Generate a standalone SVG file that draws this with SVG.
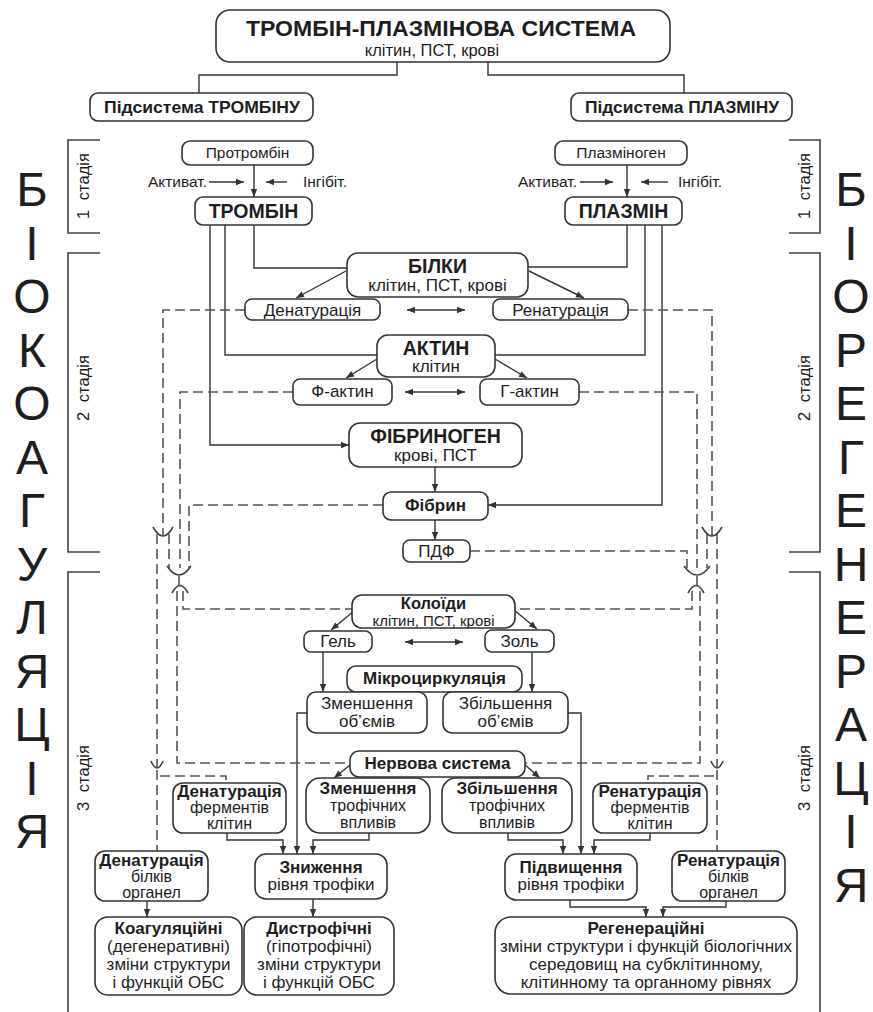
<svg xmlns="http://www.w3.org/2000/svg" width="873" height="1012" viewBox="0 0 873 1012">
<defs>
<style>
.bx{fill:#fff;stroke:#333;stroke-width:1.6}
.ln{fill:none;stroke:#333;stroke-width:1.4}
.ar{fill:none;stroke:#333;stroke-width:1.4;marker-end:url(#ah)}
.da{fill:none;stroke:#333;stroke-width:1.4;marker-start:url(#ah);marker-end:url(#ah)}
.ds{fill:none;stroke:#555;stroke-width:1.6;stroke-dasharray:10 5}
.cp{fill:none;stroke:#444;stroke-width:1.6}
.br{fill:none;stroke:#444;stroke-width:1.6}
text{font-family:"Liberation Sans",Arial,Helvetica,sans-serif;fill:#1e1e1e;text-anchor:middle}
.n{font-size:17px}
.b{font-size:17px;font-weight:bold}
.m{font-size:16px}
.mb{font-size:16px;font-weight:bold}
.h{font-size:19.5px;font-weight:bold}
.s{font-size:15.5px}
.L{font-size:48px}
.st{font-size:16.5px;word-spacing:5px}
</style>
<marker id="ah" viewBox="0 0 10 10" refX="10" refY="5" markerUnits="userSpaceOnUse" markerWidth="9" markerHeight="8" orient="auto-start-reverse"><path d="M0,1 L10,5 L0,9 z" fill="#333"/></marker>
</defs>
<rect width="873" height="1012" fill="#fff"/>

<g id="letters-left">
<text class="L" x="32" y="206">Б</text>
<text class="L" x="32" y="259.5">І</text>
<text class="L" x="32" y="313">О</text>
<text class="L" x="32" y="366.5">К</text>
<text class="L" x="32" y="420">О</text>
<text class="L" x="32" y="473.5">А</text>
<text class="L" x="32" y="527">Г</text>
<text class="L" x="32" y="580.5">У</text>
<text class="L" x="32" y="634">Л</text>
<text class="L" x="32" y="687.5">Я</text>
<text class="L" x="32" y="741">Ц</text>
<text class="L" x="32" y="794.5">І</text>
<text class="L" x="32" y="848">Я</text>
</g>
<g id="letters-right">
<text class="L" x="851" y="206">Б</text>
<text class="L" x="851" y="259.5">І</text>
<text class="L" x="851" y="313">О</text>
<text class="L" x="851" y="366.5">Р</text>
<text class="L" x="851" y="420">Е</text>
<text class="L" x="851" y="473.5">Г</text>
<text class="L" x="851" y="527">Е</text>
<text class="L" x="851" y="580.5">Н</text>
<text class="L" x="851" y="634">Е</text>
<text class="L" x="851" y="687.5">Р</text>
<text class="L" x="851" y="741">А</text>
<text class="L" x="851" y="794.5">Ц</text>
<text class="L" x="851" y="848">І</text>
<text class="L" x="851" y="901.5">Я</text>
</g>

<g id="stages">
<path class="br" d="M100,140 H68 V233 H100 M100,253 H68 V552 H100 M100,572 H68 V1012"/>
<path class="br" d="M789,140 H820 V233 H789 M789,253 H820 V552 H789 M789,572 H820 V1012"/>
<text class="st" transform="translate(89,186) rotate(-90)">1 стадія</text>
<text class="st" transform="translate(89,388) rotate(-90)">2 стадія</text>
<text class="st" transform="translate(89,778) rotate(-90)">3 стадія</text>
<text class="st" transform="translate(810,186) rotate(-90)">1 стадія</text>
<text class="st" transform="translate(810,388) rotate(-90)">2 стадія</text>
<text class="st" transform="translate(810,778) rotate(-90)">3 стадія</text>
</g>

<g id="connectors">
<path class="ln" d="M397,62 V75 H199 V93"/>
<path class="ln" d="M488,62 V75 H684 V93"/>
<path class="ar" d="M254,165 V197"/>
<path class="ar" d="M627,165 V197"/>
<path class="ar" d="M209,182 H244"/>
<path class="ar" d="M287,182 H266"/>
<path class="ar" d="M580,182 H613"/>
<path class="ar" d="M668,182 H641"/>
<path class="ln" d="M254,225 V268 H347"/>
<path class="ln" d="M225,225 V355 H377"/>
<path class="ar" d="M210,225 V445 H349"/>
<path class="ln" d="M627,225 V267 H528"/>
<path class="ln" d="M645,225 V355 H495"/>
<path class="ar" d="M662,225 V505 H488"/>
<path class="ar" d="M346,271 L296,298"/>
<path class="ar" d="M529,271 L584,298"/>
<path class="da" d="M407,310 H465"/>
<path class="ar" d="M377,359 L346,378"/>
<path class="ar" d="M495,359 L527,378"/>
<path class="da" d="M405,392 H465"/>
<path class="ar" d="M435,467 V492"/>
<path class="ar" d="M435,520 V540"/>
<path class="ar" d="M354,611 L331,630"/>
<path class="ar" d="M514,610 L537,629"/>
<path class="da" d="M405,642 H463"/>
<path class="ar" d="M323,652 V692"/>
<path class="ar" d="M532,652 V692"/>
<path class="ar" d="M307,713 H297 V854"/>
<path class="ar" d="M568,713 H581 V854"/>
<path class="ar" d="M350,765 L334,778"/>
<path class="ar" d="M524,764 L540,778"/>
<path class="ar" d="M227,833 V840 H283 V854"/>
<path class="ar" d="M369,833 V840 H313 V854"/>
<path class="ar" d="M508,833 V840 H563 V854"/>
<path class="ar" d="M650,833 V840 H594 V854"/>
<path class="ar" d="M147,901 V917"/>
<path class="ar" d="M313,899 V917"/>
<path class="ar" d="M570,900 V907 H646 V917"/>
<path class="ar" d="M726,901 V907 H663 V917"/>
<path class="ds" d="M245,310 H163 V535"/>
<path class="ds" d="M293,392 H180 V568"/>
<path class="ds" d="M383,505 H189 V568"/>
<path class="ds" d="M157,534 V768"/>
<path class="ds" d="M169,534 V568"/>
<path class="ds" d="M179,576 V587"/>
<path class="ds" d="M177,591 V763 H350"/>
<path class="ds" d="M183,591 V609 H352"/>
<path class="ds" d="M157,770 V851"/>
<path class="ds" d="M160,776 H226 V783"/>
<path class="cp" d="M153,527 Q163,545 173,527"/>
<path class="cp" d="M167,566 Q179,584 191,566"/>
<path class="cp" d="M172,593 Q180,578 188,593"/>
<path class="cp" d="M151,761 Q157,775 163,761"/>
<path class="ds" d="M628,310 H712 V535"/>
<path class="ds" d="M579,392 H697 V568"/>
<path class="ds" d="M470,551 H687 V568"/>
<path class="ds" d="M707,534 V568"/>
<path class="ds" d="M717,534 V768"/>
<path class="ds" d="M697,576 V587"/>
<path class="ds" d="M692,591 V609 H515"/>
<path class="ds" d="M700,591 V763 H525"/>
<path class="ds" d="M717,770 V851"/>
<path class="ds" d="M714,776 H648 V783"/>
<path class="cp" d="M702,527 Q712,545 722,527"/>
<path class="cp" d="M684,566 Q697,584 710,566"/>
<path class="cp" d="M688,593 Q696,578 704,593"/>
<path class="cp" d="M711,761 Q717,775 723,761"/>
</g>

<g id="title">
<rect class="bx" x="216" y="10" width="454" height="52" rx="14"/>
<text x="246" y="36" style="text-anchor:start;font-size:22px;font-weight:bold" textLength="390" lengthAdjust="spacingAndGlyphs">ТРОМБІН-ПЛАЗМІНОВА СИСТЕМА</text>
<text x="432" y="56" style="font-size:16.5px">клітин, ПСТ, крові</text>
</g>
<g id="sub-thrombin">
<rect class="bx" x="90" y="93" width="223" height="28" rx="8"/>
<text x="104" y="113" style="text-anchor:start;font-size:17px;font-weight:bold" textLength="196" lengthAdjust="spacingAndGlyphs">Підсистема ТРОМБІНУ</text>
</g>
<g id="sub-plasmin">
<rect class="bx" x="571" y="93" width="221" height="28" rx="8"/>
<text x="585" y="113" style="text-anchor:start;font-size:17px;font-weight:bold" textLength="194" lengthAdjust="spacingAndGlyphs">Підсистема ПЛАЗМІНУ</text>
</g>

<g id="prothrombin"><rect class="bx" x="182" y="141" width="131" height="24" rx="8"/><text class="s" x="247.5" y="158">Протромбін</text></g>
<g id="act-left"><text class="s" x="207" y="187" style="text-anchor:end">Активат.</text><text class="s" x="303" y="187" style="text-anchor:start">Інгібіт.</text></g>
<g id="thrombin"><rect class="bx" x="195" y="197" width="117" height="28" rx="8"/><text class="h" x="253.5" y="218">ТРОМБІН</text></g>
<g id="plasminogen"><rect class="bx" x="555" y="141" width="132" height="24" rx="8"/><text class="s" x="621" y="158">Плазміноген</text></g>
<g id="act-right"><text class="s" x="577" y="187" style="text-anchor:end">Активат.</text><text class="s" x="678" y="187" style="text-anchor:start">Інгібіт.</text></g>
<g id="plasmin"><rect class="bx" x="565" y="197" width="117" height="28" rx="8"/><text class="h" x="623.5" y="218">ПЛАЗМІН</text></g>

<g id="bilky"><rect class="bx" x="347" y="253" width="181" height="44" rx="11"/><text class="h" x="437.5" y="273">БІЛКИ</text><text class="n" x="437.5" y="291">клітин, ПСТ, крові</text></g>
<g id="denat"><rect class="bx" x="245" y="299" width="135" height="21" rx="7"/><text class="n" x="312.5" y="315.5">Денатурація</text></g>
<g id="renat"><rect class="bx" x="493" y="299" width="135" height="21" rx="7"/><text class="n" x="560.5" y="315.5">Ренатурація</text></g>

<g id="aktyn"><rect class="bx" x="377" y="335" width="118" height="42" rx="11"/><text class="h" x="436" y="355">АКТИН</text><text class="n" x="436" y="372">клітин</text></g>
<g id="f-aktyn"><rect class="bx" x="293" y="379" width="99" height="26" rx="7"/><text class="n" x="342.5" y="397">Ф-актин</text></g>
<g id="g-aktyn"><rect class="bx" x="480" y="379" width="99" height="26" rx="7"/><text class="n" x="529.5" y="397">Г-актин</text></g>

<g id="fibrinogen"><rect class="bx" x="349" y="423" width="173" height="44" rx="11"/><text class="h" x="435.5" y="443">ФІБРИНОГЕН</text><text class="n" x="435.5" y="461">крові, ПСТ</text></g>
<g id="fibrin"><rect class="bx" x="383" y="492" width="105" height="28" rx="8"/><text class="b" x="435.5" y="511">Фібрин</text></g>
<g id="pdf"><rect class="bx" x="403" y="540" width="67" height="22" rx="7"/><text class="n" x="436.5" y="557">ПДФ</text></g>

<g id="koloidy"><rect class="bx" x="352" y="595" width="163" height="33" rx="10"/><text x="433.5" y="608.5" style="font-size:16.5px;font-weight:bold">Колоїди</text><text x="433.5" y="626" style="font-size:15px">клітин, ПСТ, крові</text></g>
<g id="gel"><rect class="bx" x="304" y="631" width="68" height="21" rx="7"/><text class="n" x="338" y="647">Гель</text></g>
<g id="zol"><rect class="bx" x="485" y="630" width="69" height="22" rx="7"/><text class="n" x="519.5" y="647">Золь</text></g>
<g id="mikro"><rect class="bx" x="347" y="666" width="175" height="26" rx="9"/><text class="b" x="434.5" y="684">Мікроциркуляція</text></g>
<g id="zmen-ob"><rect class="bx" x="307" y="692" width="120" height="41" rx="9"/><text class="n" x="367" y="709">Зменшення</text><text class="n" x="367" y="727">об’ємів</text></g>
<g id="zbil-ob"><rect class="bx" x="443" y="692" width="125" height="41" rx="9"/><text class="n" x="505.5" y="709">Збільшення</text><text class="n" x="505.5" y="727">об’ємів</text></g>

<g id="nerv"><rect class="bx" x="350" y="751" width="175" height="26" rx="9"/><text class="b" x="437.5" y="769">Нервова система</text></g>
<g id="zmen-tr"><rect class="bx" x="306" y="778" width="124" height="55" rx="14"/><text class="b" x="368" y="794">Зменшення</text><text class="m" x="368" y="811">трофічних</text><text class="m" x="368" y="828">впливів</text></g>
<g id="zbil-tr"><rect class="bx" x="442" y="778" width="130" height="55" rx="14"/><text class="b" x="507" y="794">Збільшення</text><text class="m" x="507" y="811">трофічних</text><text class="m" x="507" y="828">впливів</text></g>
<g id="denat-ferm"><rect class="bx" x="173" y="783" width="113" height="50" rx="10"/><text class="b" x="229.5" y="797">Денатурація</text><text class="m" x="229.5" y="813">ферментів</text><text class="m" x="229.5" y="829">клітин</text></g>
<g id="renat-ferm"><rect class="bx" x="593" y="783" width="114" height="50" rx="10"/><text class="b" x="650" y="797">Ренатурація</text><text class="m" x="650" y="813">ферментів</text><text class="m" x="650" y="829">клітин</text></g>

<g id="denat-bilk"><rect class="bx" x="95" y="851" width="113" height="50" rx="10"/><text class="b" x="151.5" y="866">Денатурація</text><text class="m" x="151.5" y="882">білків</text><text class="m" x="151.5" y="898">органел</text></g>
<g id="znyzh"><rect class="bx" x="255" y="854" width="132" height="45" rx="11"/><text class="b" x="321" y="873">Зниження</text><text class="n" x="321" y="890">рівня трофіки</text></g>
<g id="pidv"><rect class="bx" x="505" y="854" width="132" height="46" rx="11"/><text class="b" x="571" y="873">Підвищення</text><text class="n" x="571" y="890">рівня трофіки</text></g>
<g id="renat-bilk"><rect class="bx" x="672" y="851" width="113" height="50" rx="10"/><text class="b" x="728.5" y="866">Ренатурація</text><text class="m" x="728.5" y="882">білків</text><text class="m" x="728.5" y="898">органел</text></g>

<g id="koag"><rect class="bx" x="95" y="917" width="147" height="78" rx="13"/><text class="b" x="168.5" y="934">Коагуляційні</text><text class="n" x="168.5" y="952">(дегенеративні)</text><text class="n" x="168.5" y="970">зміни структури</text><text class="n" x="168.5" y="988">і функцій ОБС</text></g>
<g id="dystr"><rect class="bx" x="244" y="917" width="150" height="78" rx="13"/><text class="b" x="319" y="934">Дистрофічні</text><text class="n" x="319" y="952">(гіпотрофічні)</text><text class="n" x="319" y="970">зміни структури</text><text class="n" x="319" y="988">і функцій ОБС</text></g>
<g id="regen"><rect class="bx" x="495" y="917" width="302" height="77" rx="16"/><text class="b" x="646" y="934">Регенераційні</text><text class="n" x="646" y="952">зміни структури і функцій біологічних</text><text class="n" x="646" y="970">середовищ на субклітинному,</text><text class="n" x="646" y="988">клітинному та органному рівнях</text></g>
</svg>
